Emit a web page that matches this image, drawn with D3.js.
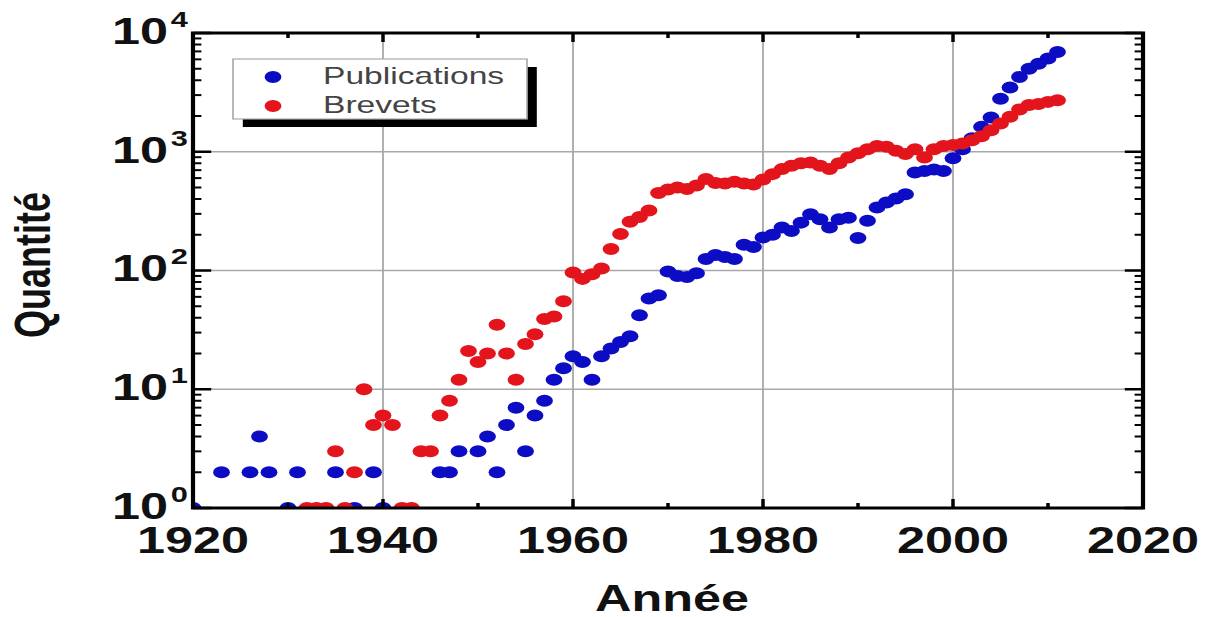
<!DOCTYPE html>
<html>
<head>
<meta charset="utf-8">
<script src="https://cdn.jsdelivr.net/npm/d3@7"></script>
<style>
  body { margin: 0; background: #fff; }
  svg { display: block; }
</style>
</head>
<body>
<svg id="chart"></svg>
<script>
// Publications (blue) and Brevets (red), counts per year
const pubYears = [1920, 1923, 1926, 1927, 1928, 1930, 1931, 1935, 1937, 1939, 1940,
  1946, 1947, 1948, 1950, 1951, 1952, 1953, 1954, 1955, 1956, 1957, 1958, 1959,
  1960, 1961, 1962, 1963, 1964, 1965, 1966, 1967, 1968, 1969,
  1970, 1971, 1972, 1973, 1974, 1975, 1976, 1977, 1978, 1979,
  1980, 1981, 1982, 1983, 1984, 1985, 1986, 1987, 1988, 1989,
  1990, 1991, 1992, 1993, 1994, 1995, 1996, 1997, 1998, 1999,
  2000, 2001, 2002, 2003, 2004, 2005, 2006, 2007, 2008, 2009, 2010, 2011];
const pubValues = [1, 2, 2, 4, 2, 1, 2, 2, 1, 2, 1,
  2, 2, 3, 3, 4, 2, 5, 7, 3, 6, 8, 12, 15,
  19, 17, 12, 19, 22, 25, 28, 42, 58, 62,
  98, 90, 88, 95, 125, 135, 130, 125, 165, 158,
  190, 200, 230, 215, 253, 297, 270, 230, 270, 278,
  188, 262, 340, 373, 404, 438, 668, 690, 710, 690,
  880, 1050, 1300, 1620, 1940, 2800, 3470, 4270, 5000, 5520, 6100, 6920];

const brevYears = [1932, 1933, 1934, 1935, 1936, 1937, 1938, 1939, 1940, 1941, 1942, 1943,
  1944, 1945, 1946, 1947, 1948, 1949, 1950, 1951, 1952, 1953, 1954, 1955, 1956, 1957, 1958, 1959,
  1960, 1961, 1962, 1963, 1964, 1965, 1966, 1967, 1968, 1969,
  1970, 1971, 1972, 1973, 1974, 1975, 1976, 1977, 1978, 1979,
  1980, 1981, 1982, 1983, 1984, 1985, 1986, 1987, 1988, 1989,
  1990, 1991, 1992, 1993, 1994, 1995, 1996, 1997, 1998, 1999,
  2000, 2001, 2002, 2003, 2004, 2005, 2006, 2007, 2008, 2009, 2010, 2011];
const brevValues = [1, 1, 1, 3, 1, 2, 10, 5, 6, 5, 1, 1,
  3, 3, 6, 8, 12, 21, 17, 20, 35, 20, 12, 24, 29, 39, 41, 55,
  96, 85, 93, 104, 152, 203, 257, 282, 320, 450,
  480, 500, 485, 520, 590, 545, 540, 560, 540, 530,
  585, 648, 714, 762, 800, 810, 762, 714, 800, 895,
  970, 1050, 1120, 1100, 1020, 955, 1050, 895, 1050, 1120,
  1140, 1175, 1250, 1350, 1520, 1730, 1970, 2270, 2470, 2520, 2630, 2720];

const xTicks = [1920, 1930, 1940, 1950, 1960, 1970, 1980, 1990, 2000, 2010, 2020];
const xLabels = [1920, 1940, 1960, 1980, 2000, 2020];
const yDecades = [1, 10, 100, 1000, 10000];

const series = [
  { name: 'Publications', color: '#0c0cc4', years: pubYears, values: pubValues },
  { name: 'Brevets', color: '#e3141c', years: brevYears, values: brevValues }
];

// the picture is stretched sideways, so draw in a narrower box and stretch it
const W = 1215, H = 617, SX = 1.4;
const svg = d3.select('#chart')
  .attr('width', W).attr('height', H)
  .attr('viewBox', `0 0 ${W / SX} ${H}`)
  .attr('preserveAspectRatio', 'none');

const pLeft = 193 / SX, pRight = 1143 / SX, pTop = 33, pBottom = 508;
const x = d3.scaleLinear().domain([1920, 2020]).range([pLeft, pRight]);
const y = d3.scaleLog().domain([1, 10000]).range([pBottom, pTop]);

const font = 'Liberation Sans, Arial, sans-serif';

// grid
const grid = svg.append('g').attr('stroke', '#a8a8a8').attr('stroke-width', 1.3);
xLabels.slice(1, -1).forEach(d => {
  grid.append('line').attr('x1', x(d)).attr('x2', x(d)).attr('y1', pTop).attr('y2', pBottom);
});
yDecades.slice(1, -1).forEach(d => {
  grid.append('line').attr('x1', pLeft).attr('x2', pRight).attr('y1', y(d)).attr('y2', y(d));
});

// points
svg.append('clipPath').attr('id', 'plot')
  .append('rect').attr('x', pLeft).attr('y', pTop).attr('width', pRight - pLeft).attr('height', pBottom - pTop);

const pts = svg.append('g').attr('clip-path', 'url(#plot)');
series.forEach(s => {
  const data = s.years.map((yr, i) => ({ yr, v: s.values[i] }));
  pts.append('g').selectAll('circle')
    .data(data)
    .join('circle')
    .attr('cx', d => x(d.yr))
    .attr('cy', d => y(d.v))
    .attr('r', 6)
    .attr('fill', s.color);
});

// frame and ticks
const frame = svg.append('g').attr('stroke', '#000');
frame.append('rect')
  .attr('x', pLeft).attr('y', pTop).attr('width', pRight - pLeft).attr('height', pBottom - pTop)
  .attr('fill', 'none').attr('stroke-width', 3);

xTicks.forEach(d => {
  const len = xLabels.includes(d) ? 9 : 5;
  frame.append('line').attr('x1', x(d)).attr('x2', x(d)).attr('y1', pBottom).attr('y2', pBottom - len).attr('stroke-width', 2.5);
  frame.append('line').attr('x1', x(d)).attr('x2', x(d)).attr('y1', pTop).attr('y2', pTop + len).attr('stroke-width', 2.5);
});

const yMinor = [];
yDecades.slice(0, -1).forEach(d => {
  for (let k = 2; k <= 9; k++) yMinor.push(d * k);
});
yMinor.forEach(v => {
  frame.append('line').attr('x1', pLeft).attr('x2', pLeft + 6).attr('y1', y(v)).attr('y2', y(v)).attr('stroke-width', 2);
  frame.append('line').attr('x1', pRight).attr('x2', pRight - 6).attr('y1', y(v)).attr('y2', y(v)).attr('stroke-width', 2);
});
yDecades.forEach(v => {
  frame.append('line').attr('x1', pLeft).attr('x2', pLeft + 13).attr('y1', y(v)).attr('y2', y(v)).attr('stroke-width', 2.5);
  frame.append('line').attr('x1', pRight).attr('x2', pRight - 13).attr('y1', y(v)).attr('y2', y(v)).attr('stroke-width', 2.5);
});

// tick labels
svg.append('g').selectAll('text')
  .data(xLabels)
  .join('text')
  .attr('x', d => x(d))
  .attr('y', 553)
  .attr('text-anchor', 'middle')
  .attr('font-family', font)
  .attr('font-weight', 'bold')
  .attr('font-size', 36)
  .attr('fill', '#111')
  .text(d => d);

const yl = svg.append('g').attr('font-family', font).attr('font-weight', 'bold').attr('fill', '#111');
yDecades.forEach(v => {
  yl.append('text')
    .attr('x', 120)
    .attr('y', y(v) + 11)
    .attr('text-anchor', 'end')
    .attr('font-size', 36)
    .text('10');
  yl.append('text')
    .attr('x', 122)
    .attr('y', y(v) - 6)
    .attr('font-size', 22)
    .text(Math.round(Math.log10(v)));
});

// axis titles
svg.append('text')
  .attr('x', 480).attr('y', 611)
  .attr('text-anchor', 'middle')
  .attr('font-family', font).attr('font-weight', 'bold').attr('font-size', 36)
  .attr('fill', '#111')
  .text('Année');

svg.append('text')
  .attr('transform', `translate(${50 / SX},265) rotate(-90)`)
  .attr('text-anchor', 'middle')
  .attr('font-family', font).attr('font-weight', 'bold').attr('font-size', 36)
  .attr('fill', '#111')
  .text('Quantité');

// legend with drop shadow
const lx = 233 / SX, ly = 59, lw = (527 - 233) / SX, lh = 60;
const legend = svg.append('g');
legend.append('rect').attr('x', lx + 7).attr('y', ly + 8).attr('width', lw).attr('height', lh).attr('fill', '#000');
legend.append('rect').attr('x', lx).attr('y', ly).attr('width', lw).attr('height', lh)
  .attr('fill', '#fff').attr('stroke', '#aaa').attr('stroke-width', 1.2);
series.forEach((s, i) => {
  const cy = 77 + i * 29;
  legend.append('circle').attr('cx', 273 / SX).attr('cy', cy).attr('r', 6).attr('fill', s.color);
  legend.append('text')
    .attr('x', 323 / SX).attr('y', cy + 7)
    .attr('font-family', font).attr('font-size', 24).attr('fill', '#444')
    .text(s.name);
});
</script>
</body>
</html>
